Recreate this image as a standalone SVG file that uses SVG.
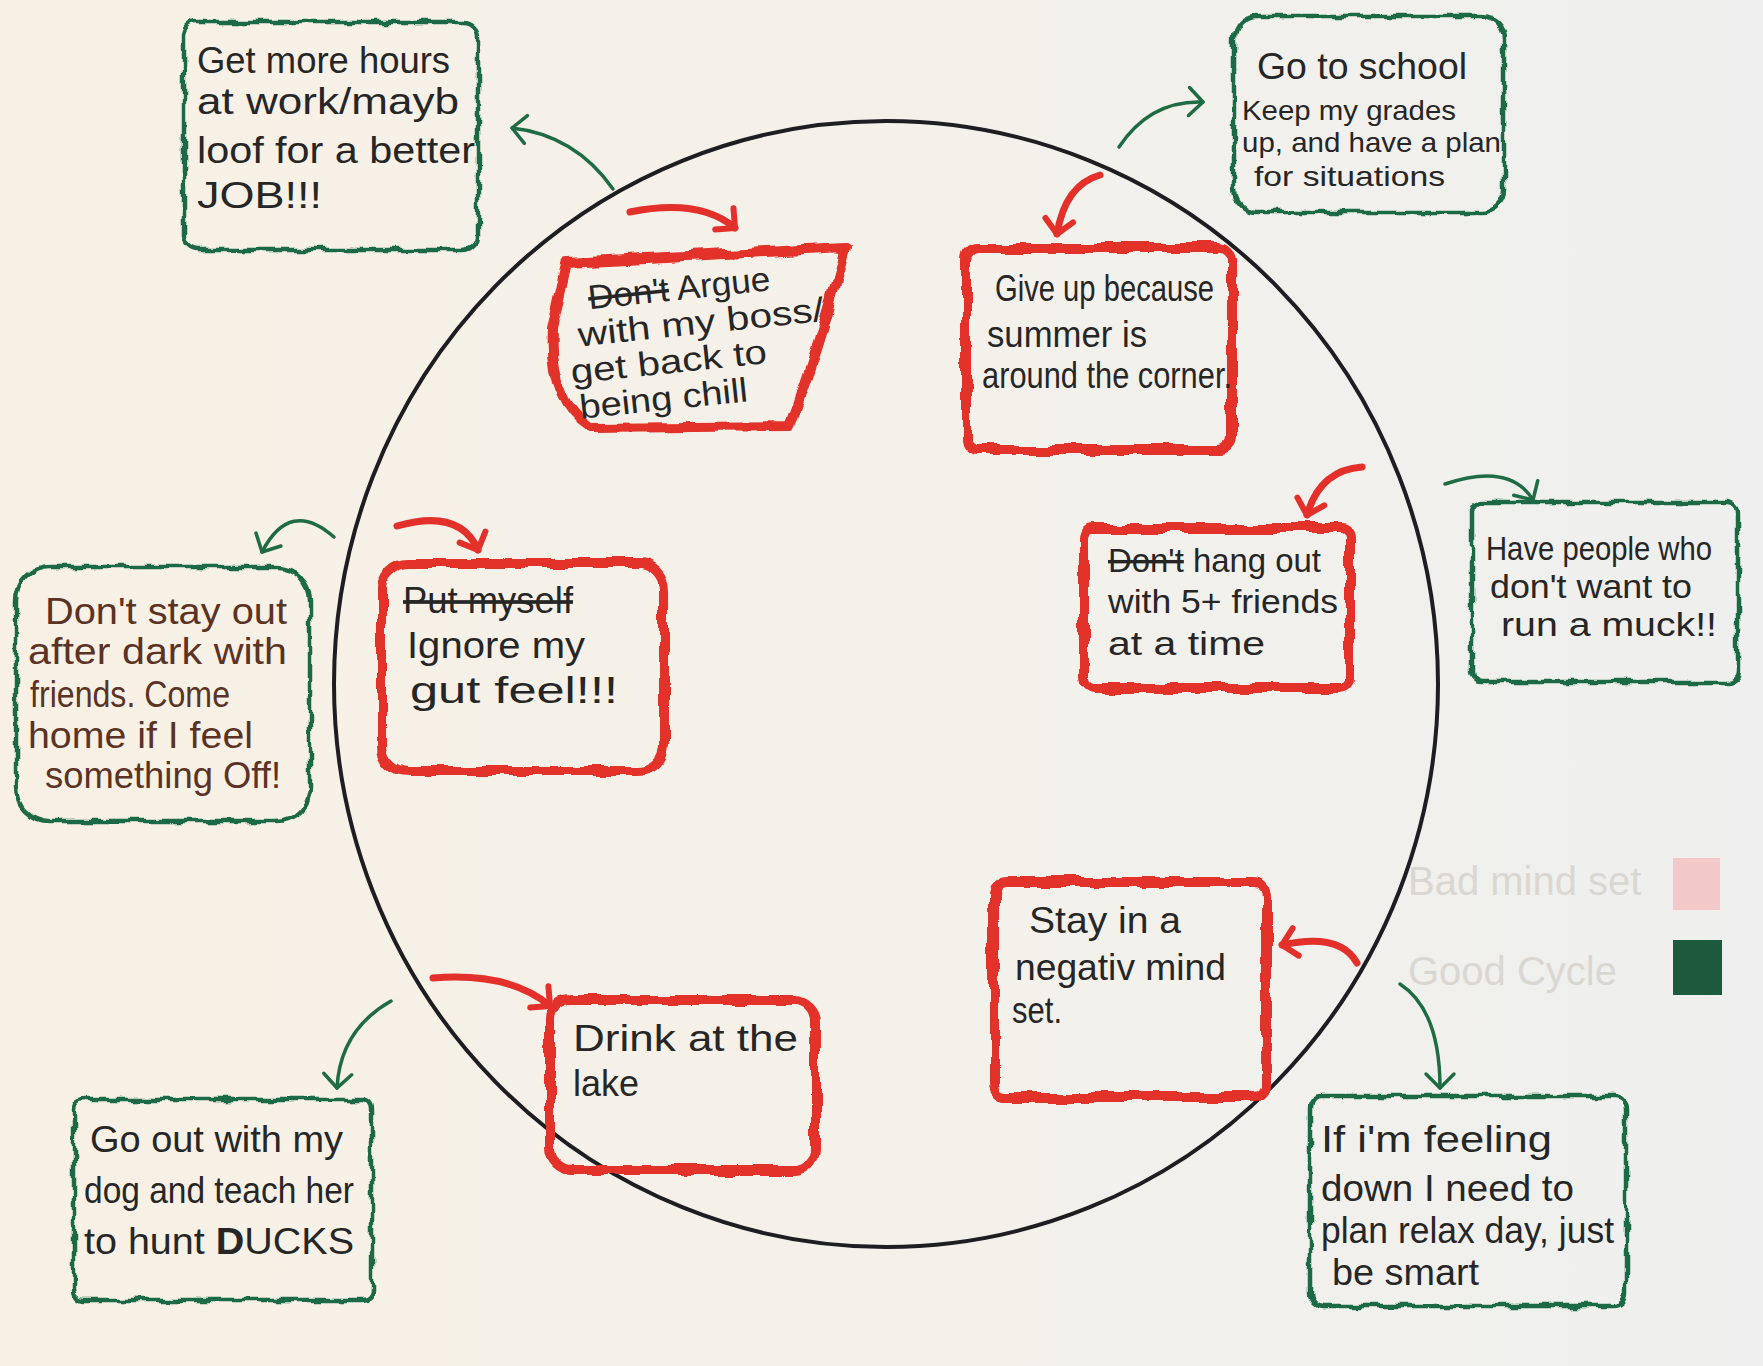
<svg xmlns="http://www.w3.org/2000/svg" width="1763" height="1366" viewBox="0 0 1763 1366">
<defs>
<linearGradient id="paper" x1="0" y1="0" x2="1" y2="0">
<stop offset="0" stop-color="#f8f0e4"/>
<stop offset="0.5" stop-color="#f4f1ea"/>
<stop offset="1" stop-color="#eeefee"/>
</linearGradient>
<filter id="wobR" x="-10%" y="-10%" width="120%" height="120%">
<feTurbulence type="fractalNoise" baseFrequency="0.035" numOctaves="2" seed="3"/>
<feDisplacementMap in="SourceGraphic" scale="11" xChannelSelector="R" yChannelSelector="G"/>
</filter>
<filter id="wobG" x="-10%" y="-10%" width="120%" height="120%">
<feTurbulence type="fractalNoise" baseFrequency="0.055" numOctaves="2" seed="7"/>
<feDisplacementMap in="SourceGraphic" scale="9" xChannelSelector="R" yChannelSelector="G"/>
</filter>
<marker id="mR" markerUnits="userSpaceOnUse" markerWidth="40" markerHeight="40" refX="20" refY="20" orient="auto" viewBox="0 0 40 40">
<path d="M6 6 L20 20 L6 34" fill="none" stroke="#e3302a" stroke-width="6" stroke-linecap="round" stroke-linejoin="round"/>
</marker>
<marker id="mG" markerUnits="userSpaceOnUse" markerWidth="40" markerHeight="40" refX="20" refY="20" orient="auto" viewBox="0 0 40 40">
<path d="M6 6 L20 20 L6 34" fill="none" stroke="#1f6b44" stroke-width="3.5" stroke-linecap="round" stroke-linejoin="round"/>
</marker>
</defs>
<style>
.red{fill:none;stroke:#e3302a;stroke-width:10;stroke-linejoin:round}
.grn{fill:none;stroke:#1f6b44;stroke-width:4.5;stroke-linejoin:round}
.t{font-family:"Liberation Sans","DejaVu Sans",sans-serif;fill:#262626;font-size:37px}
.tb{font-family:"Liberation Sans","DejaVu Sans",sans-serif;fill:#5a3324;font-size:37px}
.sm{font-size:28px}
.md{font-size:34px}
.s{text-decoration:line-through}
.ar{fill:none;stroke:#e3302a;stroke-width:7;stroke-linecap:round;marker-end:url(#mR)}
.ag{fill:none;stroke:#1f6b44;stroke-width:3.5;stroke-linecap:round;marker-end:url(#mG)}
.lg{font-family:"Liberation Sans","DejaVu Sans",sans-serif;fill:#dad7d2;font-size:40px}
</style>
<rect x="0" y="0" width="1763" height="1366" fill="url(#paper)"/>
<ellipse cx="886" cy="684" rx="552" ry="563" fill="none" stroke="#1d1d22" stroke-width="4"/>

<g id="connectors">
<path class="ag" d="M613 189 Q575 135 512 128"/>
<path class="ag" d="M1119 147 Q1150 100 1203 102"/>
<path class="ar" d="M1100 175 Q1065 185 1057 234"/>
<path class="ar" d="M630 212 Q700 198 735 228"/>
<path class="ar" d="M1362 467 Q1320 470 1307 515"/>
<path class="ag" d="M1445 484 Q1510 462 1533 500"/>
<path class="ag" d="M334 537 Q290 498 262 552"/>
<path class="ar" d="M397 526 Q460 508 478 550"/>
<path class="ar" d="M1357 963 Q1340 932 1282 945"/>
<path class="ag" d="M1400 984 Q1440 1010 1440 1088"/>
<path class="ar" d="M433 978 Q510 972 550 1006"/>
<path class="ag" d="M391 1001 Q340 1030 337 1088"/>
</g>

<g id="n1">
<rect class="grn" filter="url(#wobG)" x="184" y="22" width="294" height="228" rx="14"/>
<text class="t" x="197" y="73" textLength="253" lengthAdjust="spacingAndGlyphs">Get more hours</text>
<text class="t" x="197" y="114" textLength="262" lengthAdjust="spacingAndGlyphs">at work/mayb</text>
<text class="t" x="197" y="163" textLength="278" lengthAdjust="spacingAndGlyphs">loof for a better</text>
<text class="t" x="197" y="208" textLength="125" lengthAdjust="spacingAndGlyphs">JOB!!!</text>
</g>

<g id="n2">
<rect class="grn" filter="url(#wobG)" x="1234" y="16" width="270" height="196" rx="22"/>
<text class="t" x="1257" y="79" textLength="210" lengthAdjust="spacingAndGlyphs">Go to school</text>
<text class="t sm" x="1242" y="120" textLength="214" lengthAdjust="spacingAndGlyphs">Keep my grades</text>
<text class="t sm" x="1242" y="152" textLength="259" lengthAdjust="spacingAndGlyphs">up, and have a plan</text>
<text class="t sm" x="1254" y="186" textLength="191" lengthAdjust="spacingAndGlyphs">for situations</text>
</g>

<g id="n3">
<path class="red" filter="url(#wobR)" d="M567 262 L845 248 Q822 340 790 426 L590 428 Q548 400 552 330 Z"/>
<g transform="rotate(-6 680 340)">
<text class="t md" x="593" y="300" textLength="183" lengthAdjust="spacingAndGlyphs"><tspan class="s">Don't</tspan> Argue</text>
<text class="t md" x="579" y="336" textLength="247" lengthAdjust="spacingAndGlyphs">with my boss/</text>
<text class="t md" x="568" y="372" textLength="197" lengthAdjust="spacingAndGlyphs">get back to</text>
<text class="t md" x="573" y="408" textLength="169" lengthAdjust="spacingAndGlyphs">being chill</text>
</g>
</g>

<g id="n4">
<rect class="red" filter="url(#wobR)" x="966" y="248" width="266" height="202" rx="12"/>
<text class="t" x="995" y="301" textLength="219" lengthAdjust="spacingAndGlyphs">Give up because</text>
<text class="t" x="987" y="347" textLength="160" lengthAdjust="spacingAndGlyphs">summer is</text>
<text class="t" x="982" y="388" textLength="250" lengthAdjust="spacingAndGlyphs">around the corner.</text>
</g>

<g id="n5">
<rect class="red" filter="url(#wobR)" x="1084" y="528" width="266" height="160" rx="10"/>
<text class="t md" x="1108" y="572" textLength="213" lengthAdjust="spacingAndGlyphs"><tspan class="s">Don't</tspan> hang out</text>
<text class="t md" x="1108" y="613" textLength="230" lengthAdjust="spacingAndGlyphs">with 5+ friends</text>
<text class="t md" x="1108" y="655" textLength="157" lengthAdjust="spacingAndGlyphs">at a time</text>
</g>

<g id="n6">
<rect class="grn" filter="url(#wobG)" x="1472" y="502" width="266" height="180" rx="10"/>
<text class="t md" x="1486" y="560" textLength="226" lengthAdjust="spacingAndGlyphs">Have people who</text>
<text class="t md" x="1490" y="598" textLength="202" lengthAdjust="spacingAndGlyphs">don't want to</text>
<text class="t md" x="1501" y="636" textLength="216" lengthAdjust="spacingAndGlyphs">run a muck!!</text>
</g>

<g id="n7">
<rect class="red" filter="url(#wobR)" x="382" y="563" width="282" height="208" rx="26"/>
<text class="t" x="403" y="613" textLength="170" lengthAdjust="spacingAndGlyphs"><tspan class="s">Put myself</tspan></text>
<text class="t" x="407" y="658" textLength="178" lengthAdjust="spacingAndGlyphs">Ignore my</text>
<text class="t" x="410" y="703" textLength="208" lengthAdjust="spacingAndGlyphs">gut feel!!!</text>
</g>

<g id="n8">
<rect class="grn" filter="url(#wobG)" x="16" y="567" width="294" height="254" rx="34"/>
<text class="tb" x="45" y="624" textLength="242" lengthAdjust="spacingAndGlyphs">Don't stay out</text>
<text class="tb" x="28" y="664" textLength="259" lengthAdjust="spacingAndGlyphs">after dark with</text>
<text class="tb" x="30" y="707" textLength="200" lengthAdjust="spacingAndGlyphs">friends. Come</text>
<text class="tb" x="28" y="748" textLength="225" lengthAdjust="spacingAndGlyphs">home if I feel</text>
<text class="tb" x="45" y="788" textLength="236" lengthAdjust="spacingAndGlyphs">something Off!</text>
</g>

<g id="n9">
<rect class="red" filter="url(#wobR)" x="994" y="882" width="272" height="215" rx="12"/>
<text class="t" x="1029" y="933" textLength="152" lengthAdjust="spacingAndGlyphs">Stay in a</text>
<text class="t" x="1015" y="980" textLength="211" lengthAdjust="spacingAndGlyphs">negativ mind</text>
<text class="t" x="1012" y="1023" textLength="50" lengthAdjust="spacingAndGlyphs">set.</text>
</g>

<g id="n10">
<rect class="red" filter="url(#wobR)" x="550" y="1000" width="266" height="170" rx="22"/>
<text class="t" x="573" y="1051" textLength="225" lengthAdjust="spacingAndGlyphs">Drink at the</text>
<text class="t" x="573" y="1096" textLength="66" lengthAdjust="spacingAndGlyphs">lake</text>
</g>

<g id="n11">
<rect class="grn" filter="url(#wobG)" x="74" y="1100" width="298" height="200" rx="10"/>
<text class="t" x="90" y="1152" textLength="253" lengthAdjust="spacingAndGlyphs">Go out with my</text>
<text class="t" x="84" y="1203" textLength="270" lengthAdjust="spacingAndGlyphs">dog and teach her</text>
<text class="t" x="84" y="1254" textLength="270" lengthAdjust="spacingAndGlyphs">to hunt <tspan style="font-weight:bold">D</tspan>UCKS</text>
</g>

<g id="n12">
<rect class="grn" filter="url(#wobG)" x="1310" y="1096" width="316" height="210" rx="12"/>
<text class="t" x="1321" y="1152" textLength="231" lengthAdjust="spacingAndGlyphs">If i'm feeling</text>
<text class="t" x="1321" y="1201" textLength="253" lengthAdjust="spacingAndGlyphs">down I need to</text>
<text class="t" x="1321" y="1243" textLength="293" lengthAdjust="spacingAndGlyphs">plan relax day, just</text>
<text class="t" x="1332" y="1285" textLength="147" lengthAdjust="spacingAndGlyphs">be smart</text>
</g>

<g id="legend">
<text class="lg" x="1408" y="895">Bad mind set</text>
<text class="lg" x="1408" y="985">Good Cycle</text>
<rect x="1673" y="858" width="47" height="52" fill="#f2c9c8"/>
<rect x="1673" y="940" width="49" height="55" fill="#1d5a3b"/>
</g>
</svg>
